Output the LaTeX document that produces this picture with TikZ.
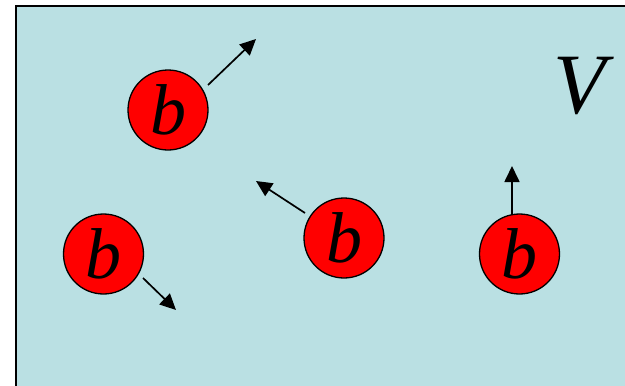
\documentclass[tikz,border=0pt]{standalone}
\usepackage{fontspec}
\setmainfont{Liberation Serif}
\usetikzlibrary{arrows.meta}
\definecolor{bgblue}{HTML}{BAE0E3}
\definecolor{ballred}{HTML}{FF0000}
\begin{document}
\begin{tikzpicture}[x=1pt,y=-1pt,
  ball/.style={circle,draw=black,line width=1.3pt,fill=ballred,minimum size=80pt,inner sep=0pt,
    font=\fontsize{72}{72}\selectfont\itshape},
  vel/.style={line width=1.7pt,-{Triangle[length=16pt,width=15pt]}}]
\useasboundingbox (0,0) rectangle (625,386);
\begin{scope}
\clip (0,0) rectangle (625,386);
\draw[line width=2pt,fill=bgblue] (16,6) rectangle (650,410);
\end{scope}
\node[ball] (b1) at (168,110) {b};
\node[ball] (b2) at (103.5,254) {b};
\node[ball] (b3) at (344,238) {b};
\node[ball] (b4) at (519.5,254) {b};
\node[font=\fontsize{86}{86}\selectfont\itshape] (V) at (580,86) {V};
\coordinate (s1) at (208,85);  \coordinate (t1) at (256,39);
\coordinate (s2) at (143,278); \coordinate (t2) at (176,310);
\coordinate (s3) at (305,213); \coordinate (t3) at (256,181);
\coordinate (s4) at (512,214); \coordinate (t4) at (512,166);
\draw[vel] (s1) -- (t1);
\draw[vel] (s2) -- (t2);
\draw[vel] (s3) -- (t3);
\draw[vel] (s4) -- (t4);
\end{tikzpicture}
\end{document}
